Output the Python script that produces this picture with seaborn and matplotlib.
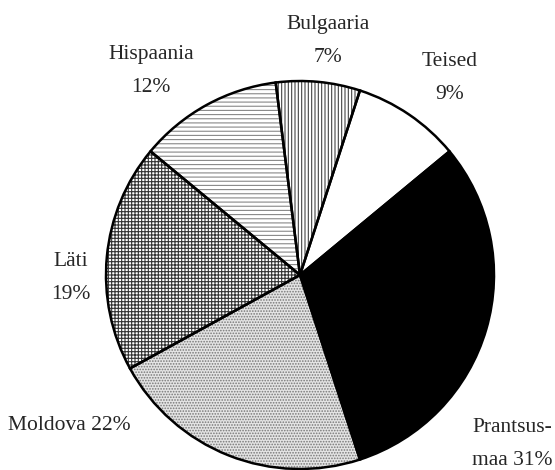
import matplotlib
matplotlib.use('Agg')
import matplotlib.pyplot as plt
import seaborn as sns

sns.set_theme(style='white')
plt.rcParams['font.family'] = ['Liberation Serif', 'DejaVu Serif']
plt.rcParams['hatch.linewidth'] = 0.8

# andmed
maad = ['Prantsusmaa', 'Teised', 'Bulgaaria', 'Hispaania', 'Läti', 'Moldova']
osakaal = [31, 9, 7, 12, 19, 22]
sildid = ['Prantsus-\nmaa 31%', 'Teised\n9%', 'Bulgaaria\n7%', 'Hispaania\n12%', 'Läti\n19%', 'Moldova 22%']

varvid = ['black', 'white', 'white', 'white', 'white', '#e4e4e4']
mustrid = [None, None, '|||||', '----', '+++++', '......']
mustri_varv = ['black', 'black', '#444444', '#888888', '#333333', '#777777']

fig = plt.figure(figsize=(5.55, 4.70), dpi=100)
ax = fig.add_axes([0, 0, 1, 1])
ax.set_xlim(0, 555)
ax.set_ylim(0, 470)
ax.set_aspect('equal')
ax.axis('off')

keskpunkt = (300, 195)
raadius = 194

# mustrid
wedges, _ = ax.pie(osakaal, startangle=-72, counterclock=True, center=keskpunkt, radius=raadius,
                   colors=varvid, wedgeprops=dict(linewidth=0))
for w, m, c in zip(wedges, mustrid, mustri_varv):
    w.set_edgecolor(c)
    if m:
        w.set_hatch(m)

# kontuurid
ax.pie(osakaal, startangle=-72, counterclock=True, center=keskpunkt, radius=raadius,
       colors=['none'] * len(osakaal), wedgeprops=dict(edgecolor='black', linewidth=1.8))

# sildid käsitsi paigutatud (x, y ülevalt)
pos = [(553, 444), (450, 78), (328, 41), (151, 71), (71, 278), (69, 425)]
joondus = ['right', 'center', 'center', 'center', 'center', 'center']
for s, (x, y), ha in zip(sildid, pos, joondus):
    ax.text(x, 470 - y, s, ha=ha, va='center', fontsize=15.5, linespacing=2.0,
            multialignment='left' if ha == 'right' else 'center')

ax.set_xlim(0, 555)
ax.set_ylim(0, 470)
fig.savefig('out.png', dpi=100)
